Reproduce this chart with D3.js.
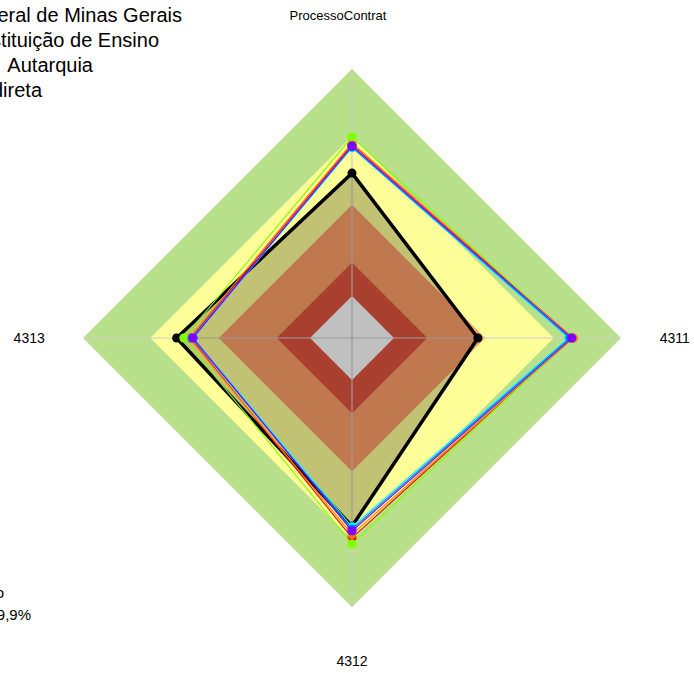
<!DOCTYPE html>
<html>
<head>
<meta charset="utf-8">
<script src="https://cdn.jsdelivr.net/npm/d3@7"></script>
<style>
  html, body { margin: 0; padding: 0; background: #ffffff; }
  svg { display: block; font-family: "Liberation Sans", Arial, sans-serif; }
  .pre { white-space: pre; }
</style>
</head>
<body>
<svg id="chart" width="694" height="673"></svg>
<script>
// Radar axes, clockwise from the top
const axes = ["ProcessoContrat", "4311", "4312", "4313"];

// Background performance bands (outer edge, % of full scale)
const bandLevels = [100, 75, 49.5, 28, 15.6];
const bandColors = ["#b8e08a", "#ffff99", "#fd9e69", "#dd543f", "#fdfdfd"];

// Reference organisation (thick black outline)
const refValues = [61.3, 46.8, 70.0, 65.2];

// Comparison series
const seriesNames  = ["s1", "s2", "s3", "s4", "s5", "s6"];
const seriesColors = ["#ff0000", "#ff8000", "#80ff00", "#00ffff", "#0080ff", "#8000ff"];
const seriesValues = [
  [72.0, 82.0, 74.3, 60.0],
  [72.5, 82.3, 73.0, 60.5],
  [74.7, 81.5, 76.6, 62.5],
  [70.8, 80.5, 70.2, 59.0],
  [71.0, 81.0, 71.0, 59.5],
  [71.4, 81.7, 71.7, 59.1]
];

// Header lines (top-left) and footer lines (bottom-left)
const headerLines = ["Universidade Federal de Minas Gerais", "Instituição de Ensino", "Natureza jurídica   Autarquia", "Administração Indireta"];
const headerEnds  = [182, 159, 93, 42];
const footerLines = ["Órgão avaliado: UFMG - Desempenho", "Média geral: 59,9%"];
const footerEnds  = [4, 31];

const svg = d3.select("#chart");
const cx = 352, cy = 338, R = 269;

const r = d3.scaleLinear().domain([0, 100]).range([0, R]);
const angle = d3.scaleLinear().domain([0, axes.length]).range([-Math.PI / 2, 1.5 * Math.PI]);

const pt = (v, i) => [cx + r(v) * Math.cos(angle(i)), cy + r(v) * Math.sin(angle(i))];
const ring = vals => d3.line()(vals.map((v, i) => pt(v, i))) + "Z";

// Bands, outermost first
svg.append("g").selectAll("path")
  .data(bandLevels)
  .join("path")
  .attr("d", lv => ring(axes.map(() => lv)))
  .attr("fill", (d, i) => bandColors[i])
  .attr("stroke", "none");

// Axis spokes
svg.append("g").selectAll("line")
  .data(axes)
  .join("line")
  .attr("x1", cx).attr("y1", cy)
  .attr("x2", (d, i) => pt(100, i)[0])
  .attr("y2", (d, i) => pt(100, i)[1])
  .attr("stroke", "#cccccc")
  .attr("stroke-width", 1.2);

// Reference polygon: translucent fill and thick outline
svg.append("path")
  .attr("d", ring(refValues))
  .attr("fill", "rgba(0,0,0,0.24)")
  .attr("stroke", "#000000")
  .attr("stroke-width", 3.5)
  .attr("stroke-linejoin", "miter");

svg.append("g").selectAll("circle")
  .data(refValues)
  .join("circle")
  .attr("cx", (v, i) => pt(v, i)[0])
  .attr("cy", (v, i) => pt(v, i)[1])
  .attr("r", 4.5)
  .attr("fill", "#000000");

// Comparison series: thin outlines with markers
const sg = svg.append("g").selectAll("g")
  .data(seriesValues)
  .join("g");

sg.append("path")
  .attr("d", vals => ring(vals))
  .attr("fill", "none")
  .attr("stroke", (d, i) => seriesColors[i])
  .attr("stroke-width", 1.1);

sg.each(function (vals, si) {
  d3.select(this).selectAll("circle")
    .data(vals)
    .join("circle")
    .attr("cx", (v, i) => pt(v, i)[0])
    .attr("cy", (v, i) => pt(v, i)[1])
    .attr("r", 4.6)
    .attr("fill", seriesColors[si]);
});

// Axis labels
const labelOffset = [-14, 0, 0, 0];
svg.append("g").selectAll("text")
  .data(axes)
  .join("text")
  .attr("x", (d, i) => cx + r(120) * Math.cos(angle(i)) + labelOffset[i])
  .attr("y", (d, i) => cy + r(120) * Math.sin(angle(i)))
  .attr("text-anchor", "middle")
  .attr("dominant-baseline", "central")
  .attr("font-size", (d, i) => i === 0 ? 13 : 14)
  .attr("fill", "#000000")
  .text(d => d);

// Header and footer text
svg.append("g").selectAll("text")
  .data(headerLines)
  .join("text")
  .attr("class", "pre")
  .attr("x", (d, i) => headerEnds[i])
  .attr("y", (d, i) => 22 + i * 25)
  .attr("text-anchor", "end")
  .attr("font-size", 20)
  .attr("fill", "#000000")
  .text(d => d);

svg.append("g").selectAll("text")
  .data(footerLines)
  .join("text")
  .attr("x", (d, i) => footerEnds[i])
  .attr("y", (d, i) => 598 + i * 22)
  .attr("text-anchor", "end")
  .attr("font-size", 15)
  .attr("fill", "#000000")
  .text(d => d);
</script>
</body>
</html>
